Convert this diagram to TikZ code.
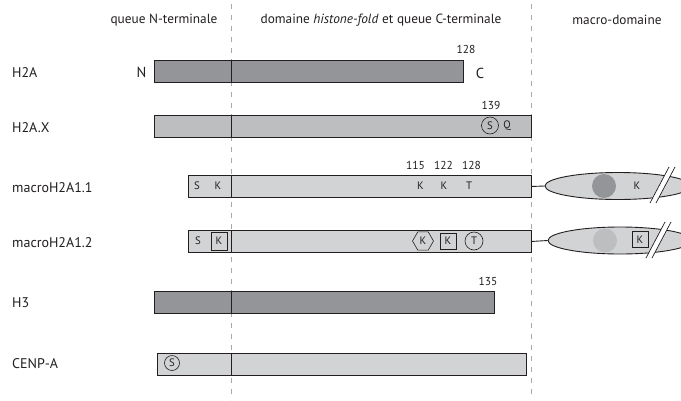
\documentclass[tikz,border=0pt]{standalone}
\usepackage{fontspec}
\setmainfont{PT Sans}
\usetikzlibrary{shapes.geometric}
\definecolor{darkbar}{HTML}{939598}
\definecolor{lightbar}{HTML}{D1D3D4}
\definecolor{midbar}{HTML}{BCBEC0}
\definecolor{dashcol}{HTML}{A7A9AC}
\definecolor{ink}{HTML}{231F20}
\tikzset{
  bar/.style={draw=ink, line width=0.9pt, minimum height=22pt, inner sep=0pt, anchor=north west},
  divline/.style={draw=ink, line width=0.9pt},
  guide/.style={draw=dashcol, line width=0.8pt, dash pattern=on 5pt off 6pt},
  head/.style={font=\fontsize{13.3}{15}\selectfont, text=ink, inner sep=0pt},
  rowlab/.style={font=\fontsize{14}{16}\selectfont, text=ink, inner sep=0pt, anchor=west},
  num/.style={font=\fontsize{11.5}{13}\selectfont, text=ink, inner sep=0pt},
  res/.style={font=\fontsize{10.8}{12}\selectfont, text=ink, inner sep=0pt},
  cmark/.style={circle, draw=ink, line width=0.6pt, minimum size=17pt, inner sep=0pt, font=\fontsize{10.8}{12}\selectfont, text=ink},
  bmark/.style={rectangle, draw=ink, line width=0.6pt, minimum width=16pt, minimum height=16pt, inner sep=0pt, font=\fontsize{10.8}{12}\selectfont, text=ink},
  hmark/.style={regular polygon, regular polygon sides=6, draw=ink, line width=0.6pt, minimum size=21pt, inner sep=0pt, font=\fontsize{10.8}{12}\selectfont, text=ink},
  macro/.style={ellipse, draw=ink, line width=0.9pt, fill=lightbar, minimum width=146pt, minimum height=27pt, inner sep=0pt},
  brk/.style={fill=white, draw=none},
  brkline/.style={draw=ink, line width=0.7pt},
}
\begin{document}
\begin{tikzpicture}[x=1pt, y=-1pt]
\clip (0,0) rectangle (681,400);
\fill[white] (0,0) rectangle (681,400);

% guides
\coordinate (g1t) at (231,4);
\coordinate (g1b) at (231,400);
\coordinate (g2t) at (531,4);
\coordinate (g2b) at (531,400);
\draw[guide] (g1t) -- (g1b);
\draw[guide] (g2t) -- (g2b);

% headers
\node[head] (hN) at (164,20) {queue N-terminale};
\node[head] (hD) at (381,20) {domaine \textit{histone-fold} et queue C-terminale};
\node[head] (hM) at (617,20) {macro-domaine};

% row labels
\node[rowlab] (lH2A) at (12,73) {H2A};
\node[rowlab] (lH2AX) at (12,128) {H2A.X};
\node[rowlab] (lM11) at (12,188) {macroH2A1.1};
\node[rowlab] (lM12) at (12,243) {macroH2A1.2};
\node[rowlab] (lH3) at (12,303) {H3};
\node[rowlab] (lCENP) at (12,364) {CENP-A};

% H2A
\node[bar, fill=darkbar, minimum width=309pt] (bH2A) at (154,60) {};
\draw[divline] (231,60) -- (231,82);
\node[font=\fontsize{14.5}{16}\selectfont, text=ink, inner sep=0pt] (nN) at (141.5,72) {N};
\node[font=\fontsize{14.5}{16}\selectfont, text=ink, inner sep=0pt] (nC) at (480,73) {C};
\node[num] (n128a) at (466,49) {128};

% H2A.X
\node[bar, fill=midbar, minimum width=377pt] (bH2AX) at (154,115) {};
\draw[divline] (231,115) -- (231,137);
\node[num] (n139) at (491,105) {139};
\node[cmark] (sX) at (490,125.5) {S};
\node[res] (qX) at (507,126) {Q};

% macroH2A1.1
\node[bar, fill=lightbar, minimum width=343pt] (bM11) at (188,175) {};
\draw[divline] (231,175) -- (231,197);
\node[res] (s11) at (197,186) {S};
\node[res] (k11) at (218,186) {K};
\node[num] (n115) at (415.5,165) {115};
\node[num] (n122) at (443.5,165) {122};
\node[num] (n128b) at (471.5,165) {128};
\node[res] (k115) at (420.5,186) {K};
\node[res] (k122) at (444,186) {K};
\node[res] (t128) at (469,186) {T};
\node[macro] (e11) at (618,186) {};
\draw[divline] (bM11.east) -- (e11.west);
\fill[darkbar] (604,186) circle (12);
\node[res] (km11) at (637,186) {K};
\coordinate (a1) at (650,203); \coordinate (a2) at (669,167);
\coordinate (a3) at (675,167); \coordinate (a4) at (656,203);
\fill[brk] (a1) -- (a2) -- (a3) -- (a4) -- cycle;
\draw[brkline] (a1) -- (a2);
\draw[brkline] (a4) -- (a3);

% macroH2A1.2
\node[bar, fill=lightbar, minimum width=343pt] (bM12) at (188,230) {};
\draw[divline] (231,230) -- (231,252);
\node[res] (s12) at (198,241) {S};
\node[bmark, minimum height=18pt] (k12) at (219,241) {K};
\node[hmark] (hk115) at (423,241) {K};
\node[bmark] (bk122) at (448,241) {K};
\node[cmark, minimum size=18pt] (ct128) at (474,241) {T};
\node[macro, minimum width=144pt] (e12) at (620,240.5) {};
\draw[divline] (bM12.east) -- (e12.west);
\fill[midbar] (605,240.5) circle (12);
\node[bmark] (km12) at (640,239.5) {K};
\coordinate (b1) at (646,258); \coordinate (b2) at (665,222);
\coordinate (b3) at (671,222); \coordinate (b4) at (652,258);
\fill[brk] (b1) -- (b2) -- (b3) -- (b4) -- cycle;
\draw[brkline] (b1) -- (b2);
\draw[brkline] (b4) -- (b3);

% H3
\node[bar, fill=darkbar, minimum width=340pt] (bH3) at (154,290.5) {};
\draw[divline] (231,290.5) -- (231,312.5);
\node[num] (n135) at (488,281) {135};

% CENP-A
\node[bar, fill=lightbar, minimum width=369pt] (bCENP) at (157,352.5) {};
\draw[divline] (231,352.5) -- (231,374.5);
\node[cmark, minimum size=15pt] (sC) at (172,363) {S};
\end{tikzpicture}
\end{document}
